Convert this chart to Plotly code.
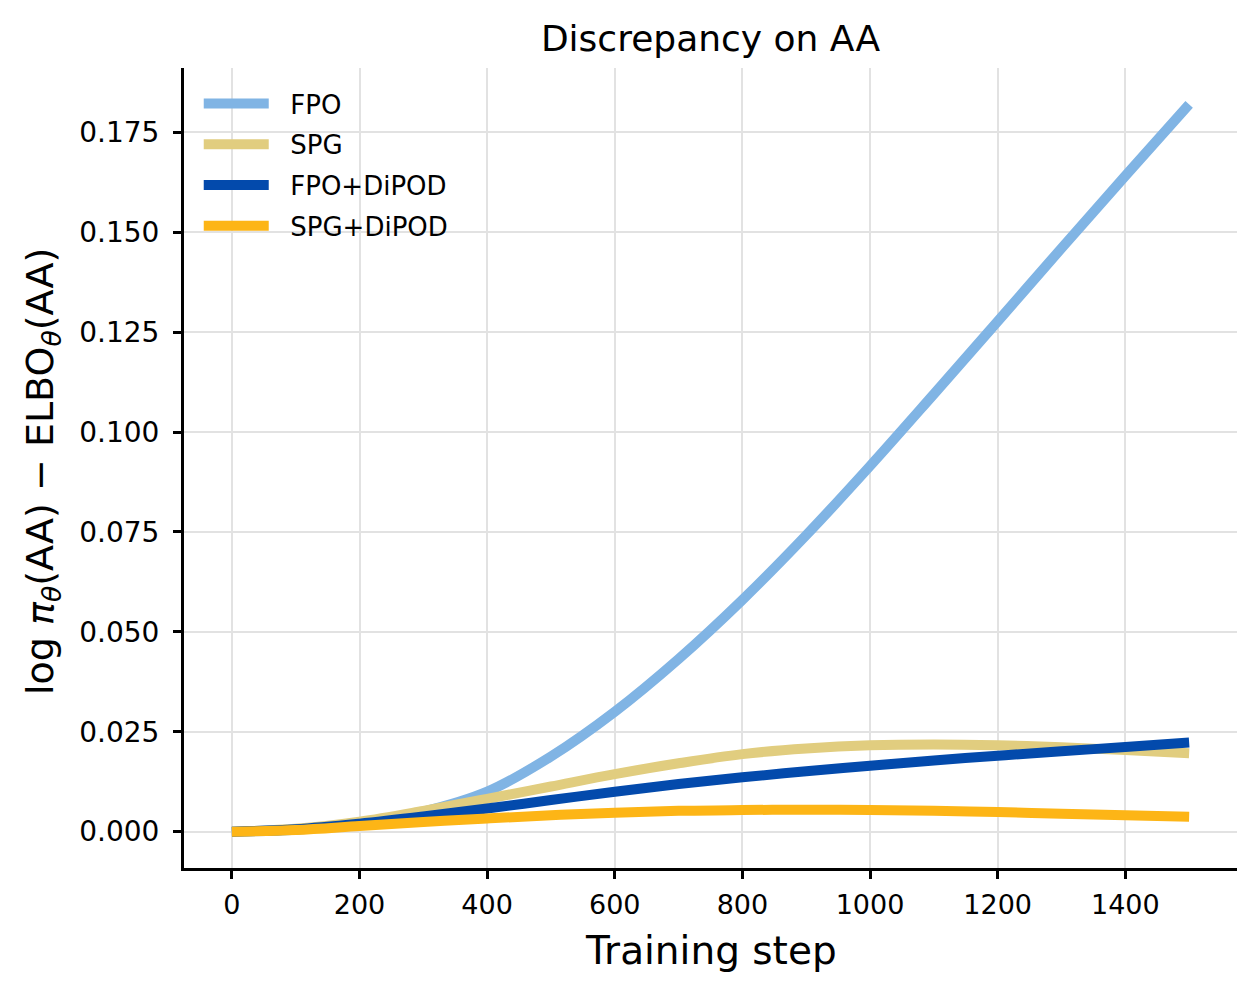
import plotly.graph_objects as go

steps = [0, 100, 200, 300, 400, 500, 600, 700, 800, 900, 1000, 1100, 1200, 1300, 1400, 1500]
fpo = [0.0, 0.0005, 0.0020, 0.0050, 0.0100, 0.0188, 0.0300, 0.0432, 0.0580, 0.0742,
       0.0915, 0.1095, 0.1277, 0.1460, 0.1641, 0.1820]
spg = [0.0, 0.0007, 0.0025, 0.0052, 0.0082, 0.0113, 0.0144, 0.0171, 0.0194, 0.0208,
       0.0216, 0.0218, 0.0216, 0.0211, 0.0204, 0.0196]
fpo_dipod = [0.0, 0.0006, 0.0020, 0.0038, 0.0058, 0.0079, 0.0100, 0.0119, 0.0136, 0.0151,
             0.0165, 0.0178, 0.0190, 0.0201, 0.0212, 0.0223]
spg_dipod = [0.0, 0.0004, 0.0014, 0.0024, 0.0033, 0.0041, 0.0047, 0.0052, 0.0054, 0.0055,
             0.0054, 0.0052, 0.0049, 0.0045, 0.0041, 0.0037]

series_names = ["FPO", "SPG", "FPO+DiPOD", "SPG+DiPOD"]
series_values = [fpo, spg, fpo_dipod, spg_dipod]
series_colors = ["#80b4e4", "#e1cd7f", "#034aac", "#fdb516"]

x_ticks = [0, 200, 400, 600, 800, 1000, 1200, 1400]
y_ticks = [0.000, 0.025, 0.050, 0.075, 0.100, 0.125, 0.150, 0.175]

FONT = "DejaVu Sans"

fig = go.Figure()
for name, vals, col in zip(series_names, series_values, series_colors):
    fig.add_trace(go.Scatter(
        x=steps, y=vals, name="\u00a0\u00a0" + name, mode="lines",
        line=dict(color=col, width=10, shape="spline", smoothing=1.0),
        legendgroup=name,
    ))

fig.update_layout(
    width=1258, height=994,
    template=None,
    paper_bgcolor="white", plot_bgcolor="white",
    margin=dict(l=184, r=21, t=68, b=126),
    font=dict(family=FONT, color="black", size=27),
    title=dict(text="Discrepancy on AA", x=0.5, xref="paper", xanchor="center",
               y=1 - 38 / 994, yref="container", yanchor="middle",
               font=dict(family=FONT, size=36, color="black")),
    showlegend=True,
    legend=dict(x=0.014, y=0.985, xanchor="left", yanchor="top",
                bgcolor="rgba(0,0,0,0)", borderwidth=0,
                font=dict(family=FONT, size=26, color="black"),
                itemwidth=65, tracegroupgap=4),
)

fig.update_xaxes(
    range=[-75, 1575], tickvals=x_ticks, ticktext=[str(v) for v in x_ticks],
    showline=True, linecolor="black", linewidth=3, mirror=False,
    ticks="outside", ticklen=8, tickwidth=2.5, tickcolor="black",
    showgrid=True, gridcolor="#e2e2e2", gridwidth=2, zeroline=False,
    tickfont=dict(family=FONT, size=27, color="black"),
    ticklabelstandoff=3,
)
fig.update_yaxes(
    range=[-0.0091, 0.1911], tickvals=y_ticks, ticktext=[f"{v:.3f}" for v in y_ticks],
    showline=True, linecolor="black", linewidth=3, mirror=False,
    ticks="outside", ticklen=8, tickwidth=2.5, tickcolor="black",
    showgrid=True, gridcolor="#e2e2e2", gridwidth=2, zeroline=False,
    tickfont=dict(family=FONT, size=28, color="black"),
    ticklabelstandoff=8,
)

fig.add_annotation(
    text="Training step", xref="paper", yref="paper",
    x=0.5, y=(868 - 950) / 800, xanchor="center", yanchor="middle",
    showarrow=False, font=dict(family=FONT, size=39, color="black"),
)
fig.add_annotation(
    text="log <i>π</i><sub><i>θ</i></sub>(AA) − ELBO<sub><i>θ</i></sub>(AA)",
    xref="paper", yref="paper",
    x=(42 - 184) / 1053, y=(868 - 472) / 800, xanchor="center", yanchor="middle",
    textangle=-90, showarrow=False, font=dict(family=FONT, size=38, color="black"),
)

fig.write_html("out.html")
